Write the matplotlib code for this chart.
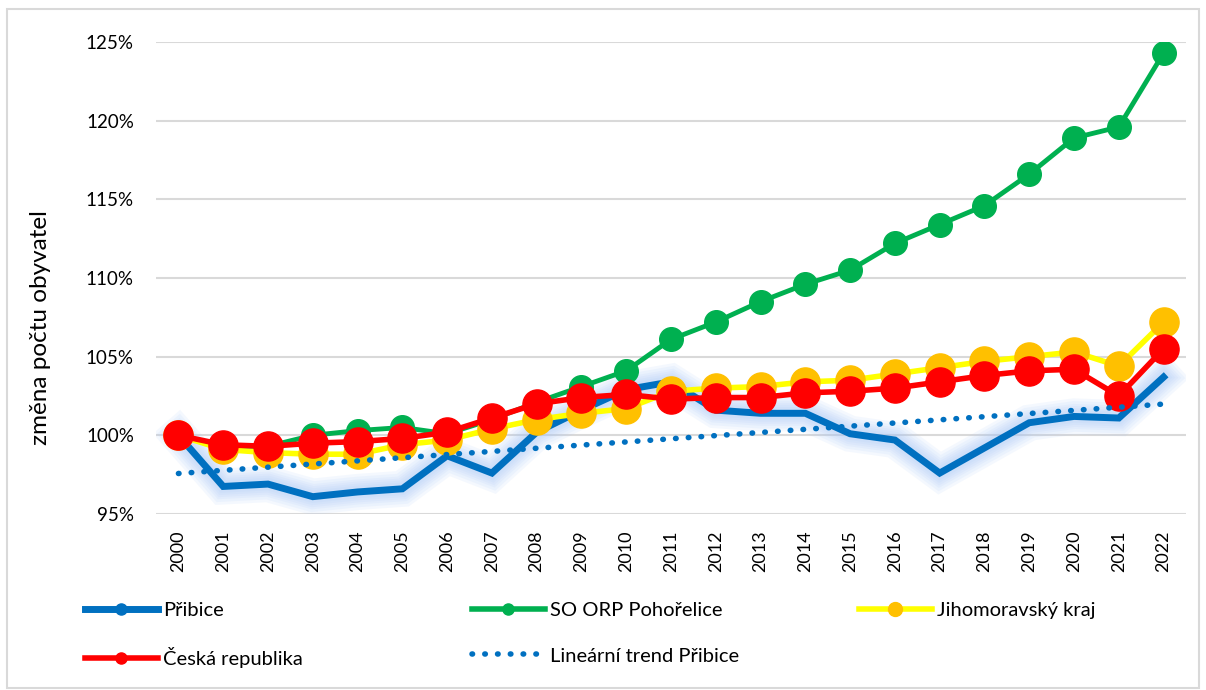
import numpy as np
import matplotlib
matplotlib.use("Agg")
import matplotlib.pyplot as plt
import matplotlib.patheffects as pe
from matplotlib.lines import Line2D
from matplotlib.patches import Rectangle
from matplotlib.ticker import FuncFormatter

plt.rcParams['font.family'] = ['Lato', 'DejaVu Sans']

# roky a indexy změny počtu obyvatel (2000 = 100 %)
years = [str(y) for y in range(2000, 2023)]
pribice = [100.0, 96.75, 96.9, 96.1, 96.4, 96.6, 98.7, 97.6, 100.2, 101.6, 102.9, 103.4,
           101.6, 101.4, 101.4, 100.1, 99.7, 97.6, 99.2, 100.8, 101.2, 101.1, 103.7]
orp = [100.0, 99.3, 99.3, 100.0, 100.3, 100.5, 100.1, 101.0, 102.1, 103.1, 104.1, 106.1,
       107.2, 108.5, 109.6, 110.5, 112.2, 113.4, 114.6, 116.6, 118.9, 119.6, 124.3]
jmk = [100.0, 99.1, 98.9, 98.8, 98.8, 99.4, 99.7, 100.4, 101.0, 101.4, 101.7, 102.8,
       103.0, 103.1, 103.4, 103.5, 103.9, 104.3, 104.7, 105.0, 105.3, 104.4, 107.2]
cr = [100.0, 99.4, 99.3, 99.5, 99.6, 99.8, 100.2, 101.1, 102.0, 102.4, 102.6, 102.3,
      102.4, 102.4, 102.7, 102.8, 103.0, 103.4, 103.8, 104.1, 104.2, 102.5, 105.5]

x = np.arange(len(years))
# lineární trend Přibice (regrese jako v Excelu)
k, q = np.polyfit(x, pribice, 1)
trend = k * x + q

fig = plt.figure(figsize=(12.06, 6.9), dpi=100)
ax = fig.add_axes([0.1294, 0.2551, 0.854, 0.684])

# měkká záře kolem modré čáry
glow = [pe.Stroke(linewidth=w, foreground='#a9c7f7', alpha=0.12) for w in (26, 22, 18, 15, 12, 9)]
glow.append(pe.Normal())
ax.plot(x, pribice, color='#0070C0', lw=5, solid_joinstyle='miter', zorder=2, path_effects=glow)
ax.plot(x, orp, color='#00B050', lw=3.5, marker='o', ms=17, zorder=3)
ax.plot(x, jmk, color='#FFFF00', lw=4, marker='o', ms=21, mfc='#FFC000', mec='#FFC000', zorder=4)
ax.plot(x, cr, color='#FF0000', lw=4, marker='o', ms=21, zorder=5)
ax.plot(x, trend, color='#0070C0', lw=4, linestyle=(0, (0.1, 2.2)), dash_capstyle='round', zorder=6)

ax.set_xlim(-0.5, len(years) - 0.5)
ax.set_ylim(95, 125)
ax.set_yticks(np.arange(95, 126, 5))
ax.yaxis.set_major_formatter(FuncFormatter(lambda v, p: f"{v:.0f}%"))
ax.set_xticks(x)
ax.set_xticklabels(years, rotation=90)
ax.tick_params(axis='both', length=0, colors='#000000')
ax.tick_params(axis='y', pad=16, labelsize=13.5)
ax.tick_params(axis='x', pad=12, labelsize=13)
ax.grid(axis='y', color='#D9D9D9', lw=1.5, zorder=0)
ax.set_axisbelow(True)
for s in ax.spines.values():
    s.set_visible(False)
ax.set_ylabel("změna počtu obyvatel", fontsize=17.5)
ax.yaxis.set_label_coords(-0.102, 0.394)

# legenda ve třech sloupcích
h_pribice = Line2D([], [], color='#0070C0', lw=5, marker='o', ms=8)
h_orp = Line2D([], [], color='#00B050', lw=4, marker='o', ms=8)
h_jmk = Line2D([], [], color='#FFFF00', lw=4, marker='o', ms=10, mfc='#FFC000', mec='#FFC000')
h_cr = Line2D([], [], color='#FF0000', lw=4, marker='o', ms=8)
h_trend = Line2D([], [], color='#0070C0', lw=4, linestyle=(0, (0.1, 2.2)), dash_capstyle='round')

kw = dict(frameon=False, fontsize=14.5, handlelength=3.6, handletextpad=0.25,
          labelspacing=1.4, loc='upper left')
fig.legend([h_pribice, h_cr], ["Přibice", "Česká republika"],
           bbox_to_anchor=(0.0556, 0.1536), **kw)
fig.legend([h_orp, h_trend], ["SO ORP Pohořelice", "Lineární trend Přibice"],
           bbox_to_anchor=(0.3764, 0.1536), **kw)
fig.legend([h_jmk], ["Jihomoravský kraj"],
           bbox_to_anchor=(0.6974, 0.1536), **kw)

fig.patches.append(Rectangle((0.006, 0.003), 0.988, 0.984, transform=fig.transFigure,
                             fill=False, edgecolor='#D9D9D9', lw=1.5))

fig.savefig("out.png", dpi=100)
